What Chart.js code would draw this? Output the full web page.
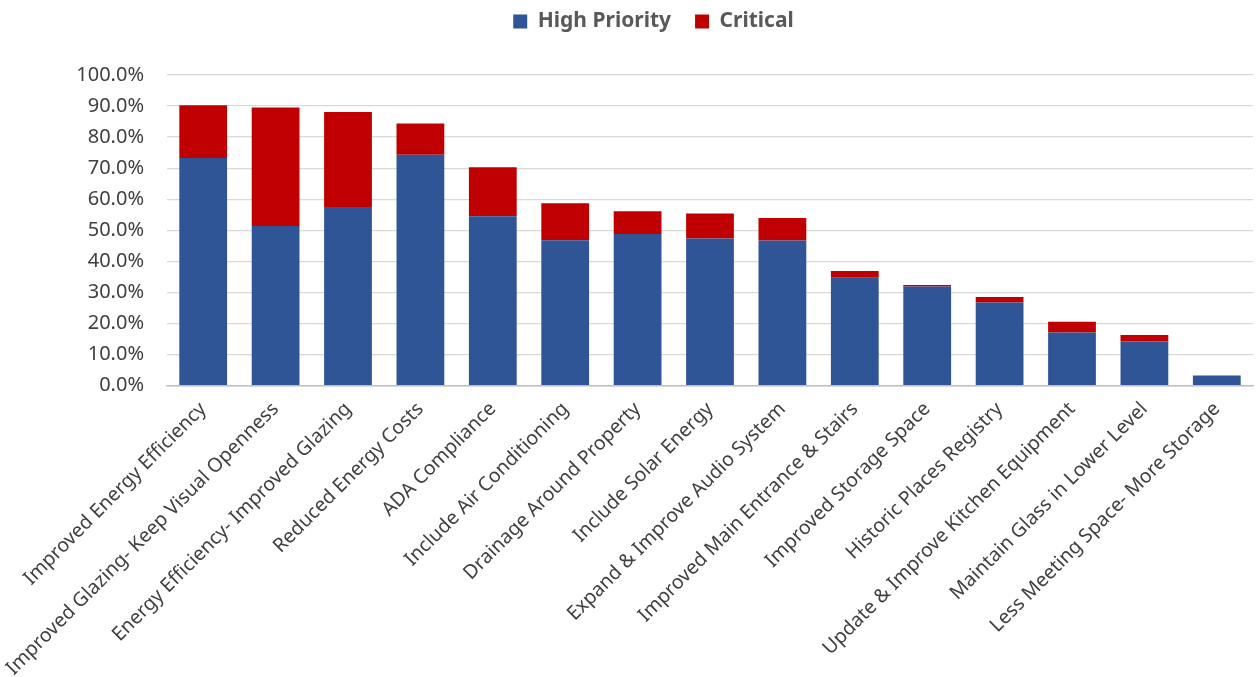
<!DOCTYPE html>
<html>
<head>
<meta charset="utf-8">
<script src="https://cdn.jsdelivr.net/npm/chart.js@4"></script>
<style>
  body { margin: 0; background: #fff; }
  #wrap { width: 1260px; height: 677px; }
</style>
</head>
<body>
<div id="wrap"><canvas id="chart-bar"></canvas></div>
<script>
const categories = [
    "Improved Energy Efficiency",
    "Improved Glazing- Keep Visual Openness",
    "Energy Efficiency- Improved Glazing",
    "Reduced Energy Costs",
    "ADA Compliance",
    "Include Air Conditioning",
    "Drainage Around Property",
    "Include Solar Energy",
    "Expand & Improve Audio System",
    "Improved Main Entrance & Stairs",
    "Improved Storage Space",
    "Historic Places Registry",
    "Update & Improve Kitchen Equipment",
    "Maintain Glass in Lower Level",
    "Less Meeting Space- More Storage"
];

// phần trăm
const highPriority = [73.3, 51.4, 57.5, 74.3, 54.5, 46.8, 48.8, 47.4, 46.7, 34.7, 31.9, 26.8, 17.1, 14.2, 3.3];
const critical = [17.0, 38.1, 30.6, 10.1, 15.8, 11.9, 7.3, 8.0, 7.3, 2.2, 0.5, 1.7, 3.5, 2.1, 0];

// thêm khoảng trống dưới chú thích, dời chú thích sang phải một chút
const legendSpace = {
    id: 'legendSpace',
    beforeInit(chart) {
        const fit = chart.legend.fit;
        chart.legend.fit = function() {
            fit.bind(chart.legend)();
            this.height += 33;
        };
    },
    afterLayout(chart) {
        chart.legend.left += 27;
        chart.legend.right += 27;
    }
};

const ctx = document.getElementById('chart-bar');
new Chart(ctx, {
    type: 'bar',
    data: {
        labels: categories,
        datasets: [
            {
                label: 'High Priority',
                data: highPriority,
                backgroundColor: '#2F5597',
                borderWidth: 0
            },
            {
                label: 'Critical',
                data: critical,
                backgroundColor: '#C00000',
                borderWidth: 0
            }
        ]
    },
    options: {
        responsive: true,
        maintainAspectRatio: false,
        animation: false,
        layout: {
            padding: { left: 0, right: 7, top: -13, bottom: -7 }
        },
        datasets: {
            bar: { categoryPercentage: 1, barPercentage: 0.66 }
        },
        scales: {
            x: {
                stacked: true,
                border: { color: '#bfbfbf', width: 1.5 },
                grid: { display: false },
                ticks: {
                    autoSkip: false,
                    maxRotation: 45,
                    minRotation: 45,
                    color: '#404040',
                    padding: 4,
                    font: { family: 'Noto Sans', size: 19.5 }
                }
            },
            y: {
                stacked: true,
                min: 0,
                max: 100,
                border: { display: false },
                grid: { color: '#d9d9d9', lineWidth: 1.3, drawTicks: false },
                afterFit: function(s) { s.width = 167; },
                ticks: {
                    stepSize: 10,
                    padding: 23,
                    color: '#404040',
                    font: { family: 'Noto Sans', size: 20 },
                    callback: function(v) { return v.toFixed(1) + '%'; }
                }
            }
        },
        plugins: {
            legend: {
                position: 'top',
                labels: {
                    color: '#595959',
                    boxWidth: 14,
                    boxHeight: 14,
                    padding: 24,
                    font: { family: 'Noto Sans', size: 21, weight: 'bold' }
                }
            },
            tooltip: { enabled: true }
        }
    },
    plugins: [legendSpace]
});
</script>
</body>
</html>
